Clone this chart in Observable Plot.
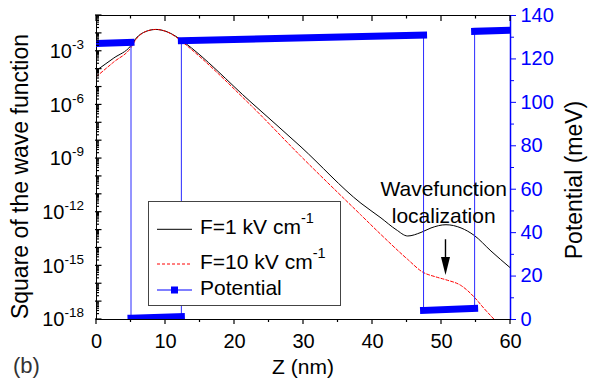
<!DOCTYPE html>
<html><head><meta charset="utf-8">
<script src="https://cdn.jsdelivr.net/npm/d3@7"></script>
<script src="https://cdn.jsdelivr.net/npm/@observablehq/plot@0.6"></script>
<style>
body{margin:0;background:#fff}
#wrap{position:relative;width:591px;height:382px;background:#fff}
#wrap svg{position:absolute;left:0;top:0;background:transparent !important;max-width:none}
</style>
</head><body><div id="wrap"></div>
<script>
// ---- data ----
// F = 1 kV/cm : position (nm) and log10 of |psi|^2
const zF1   = [0, 2.5, 5.0, 5.72, 7.17, 8.62, 10.07, 11.52, 12.54, 22.39, 29.64, 38.33, 41.23, 43.41, 45.10, 47.03, 48.48, 50.65, 52.83, 54.75, 57.17, 60];
const logF1 = [-4.07, -3.38, -2.68, -2.28, -1.89, -1.78, -1.89, -2.17, -2.45, -5.85, -8.35, -11.50, -12.32, -12.97, -13.33, -13.13, -12.88, -12.70, -12.88, -13.30, -14.17, -15.12];
// F = 10 kV/cm
const zF10   = [0, 2.5, 5.0, 5.72, 7.17, 8.62, 10.07, 11.52, 12.54, 22.39, 29.64, 38.33, 41.23, 45.10, 47.28, 49.2, 50.65, 52.83, 54.75, 56.16, 57.65];
const logF10 = [-4.41, -3.60, -2.79, -2.34, -1.89, -1.78, -1.89, -2.20, -2.51, -6.03, -8.88, -12.16, -13.25, -14.64, -15.35, -15.62, -15.78, -16.10, -16.75, -17.38, -18.0];
// Potential profile (meV), step corners
const potZ = [0, 5, 5, 12.3, 12.3, 47.4, 47.4, 54.8, 54.8, 60];
const potV = [127.1, 127.6, 0.6, 1.3, 128.4, 131.0, 4.2, 5.1, 132.7, 133.2];
// ticks
const xMajor = [0, 10, 20, 30, 40, 50, 60];
const xMinor = [5, 15, 25, 35, 45, 55];
const yLabelExp = [-3, -6, -9, -12, -15, -18];
const decadeExp = [-18,-17,-16,-15,-14,-13,-12,-11,-10,-9,-8,-7,-6,-5,-4,-3,-2,-1];
const potMajor = [0, 20, 40, 60, 80, 100, 120, 140];
const potMinor = [10, 30, 50, 70, 90, 110, 130];
// annotation
const arrowZ = [50.65], arrowFromExp = [-13.54], arrowToExp = [-15.54];
const legendLabels = ["F=1 kV cm", "F=10 kV cm", "Potential"];

// ---- build ----
const W = 591, H = 382, mL = 96, mR = 81, mT = 15, mB = 63;
const font = "'Liberation Sans', Arial, Helvetica, sans-serif";
const f1 = zF1.map((z, i) => ({z, v: Math.pow(10, logF1[i])}));
const f10 = zF10.map((z, i) => ({z, v: Math.pow(10, logF10[i])}));
const pot = potZ.map((z, i) => ({z, v: potV[i]}));
const segs = [];
for (let i = 0; i + 1 < pot.length; i += 2) segs.push({z1: pot[i].z, v1: pot[i].v, z2: pot[i+1].z, v2: pot[i+1].v});
const decades = decadeExp.map(e => Math.pow(10, e));
const minor = [];
decadeExp.forEach(e => { if (e < -1) for (let d = 2; d <= 9; d++) minor.push(d * Math.pow(10, e)); });
const blank = () => "";

const p1 = Plot.plot({
  width: W, height: H, marginLeft: mL, marginRight: mR, marginTop: mT, marginBottom: mB,
  style: {fontFamily: font, fontSize: "20px", color: "black", background: "transparent"},
  x: {domain: [0, 60], label: null},
  y: {type: "log", domain: [1e-18, 1e-1], label: null, axis: null},
  marks: [
    Plot.line(f1, {x: "z", y: "v", stroke: "black", strokeWidth: 1, curve: "monotone-x"}),
    Plot.line(f10, {x: "z", y: "v", stroke: "red", strokeWidth: 1, strokeDasharray: "3,2", curve: "monotone-x", clip: true}),
    Plot.axisX({anchor: "bottom", ticks: xMajor, tickSize: 0, tickPadding: 14, fontSize: 20, label: null}),
    Plot.frame({stroke: "black"})
  ]
});

const p2 = Plot.plot({
  width: W, height: H, marginLeft: mL, marginRight: mR, marginTop: mT, marginBottom: mB,
  style: {fontFamily: font, fontSize: "20px", color: "blue", background: "transparent"},
  x: {domain: [0, 60], label: null, axis: null},
  y: {domain: [0, 140], label: null},
  marks: [
    Plot.line(pot, {x: "z", y: "v", stroke: "#2a2aff", strokeWidth: 1}),
    Plot.link(segs, {x1: "z1", y1: "v1", x2: "z2", y2: "v2", stroke: "blue", strokeWidth: 7, strokeLinecap: "square", clip: true}),
    Plot.ruleX([60], {stroke: "blue", strokeWidth: 1.5}),
    Plot.axisY({anchor: "right", ticks: potMajor, tickSize: 5, tickPadding: 5, fontSize: 20, label: null}),
    Plot.axisY({anchor: "right", ticks: potMinor, tickSize: 3, tickFormat: blank, label: null})
  ]
});

const wrap = document.getElementById("wrap");
wrap.appendChild(p1);
wrap.appendChild(p2);

const sx = p1.scale("x"), sy = p1.scale("y");
const X = v => sx.apply(v), Y = v => sy.apply(v);
const x0 = X(0), yTop = Y(1e-1), yBot = Y(1e-18);

// ticks: inward on top and left, outward on bottom (positions from the plot scales)
const ns = "http://www.w3.org/2000/svg";
function tick(x1, y1, x2, y2) {
  const l = document.createElementNS(ns, "line");
  l.setAttribute("x1", x1); l.setAttribute("y1", y1); l.setAttribute("x2", x2); l.setAttribute("y2", y2);
  l.setAttribute("stroke", "#000"); l.setAttribute("stroke-width", "1.2");
  p2.appendChild(l);
}
xMajor.forEach(v => { tick(X(v), yTop, X(v), yTop + 6); tick(X(v), yBot, X(v), yBot + 5); });
xMinor.forEach(v => { tick(X(v), yTop, X(v), yTop + 3.5); tick(X(v), yBot, X(v), yBot + 3); });
decades.forEach(v => tick(x0 - 1, Y(v), x0 + 5.5, Y(v)));
minor.forEach(v => tick(x0, Y(v), x0 + 3, Y(v)));

// left tick labels with superscripts
const g1 = d3.select(p1).append("g").attr("font-family", font).attr("fill", "black");
yLabelExp.forEach(e => {
  const t = g1.append("text").attr("x", 84).attr("y", Y(Math.pow(10, e)) + 7.4).attr("text-anchor", "end").attr("font-size", 20);
  t.append("tspan").text("10");
  t.append("tspan").attr("dy", -9).attr("font-size", 13.5).text(String(e));
});

// top layer: titles, legend, annotation
const g = d3.select(p2).append("g").attr("font-family", font).attr("fill", "black").attr("text-anchor", "start");
g.append("text").attr("x", 303).attr("y", 374).attr("text-anchor", "middle").attr("font-size", 21).text("Z (nm)");
g.append("text").attr("transform", "translate(28,176.5) rotate(-90)").attr("text-anchor", "middle").attr("font-size", 23).text("Square of the wave function");
g.append("text").attr("transform", "translate(582,180) rotate(-90)").attr("text-anchor", "middle").attr("font-size", 23).text("Potential (meV)");
g.append("text").attr("x", 13).attr("y", 373).attr("font-size", 22).attr("fill", "#333").text("(b)");

// annotation
const ann = g.append("g").attr("font-size", 21).attr("text-anchor", "middle");
ann.append("text").attr("x", 443.7).attr("y", 196).text("Wavefunction");
ann.append("text").attr("x", 443.7).attr("y", 222.7).text("localization");
arrowZ.forEach((z, i) => {
  const ax = X(z), y0 = Y(Math.pow(10, arrowFromExp[i])), y1 = Y(Math.pow(10, arrowToExp[i]));
  g.append("line").attr("x1", ax).attr("x2", ax).attr("y1", y0).attr("y2", y1 - 14).attr("stroke", "black").attr("stroke-width", 1.4);
  g.append("path").attr("d", `M${ax - 4.5},${y1 - 18}L${ax + 4.5},${y1 - 18}L${ax},${y1}Z`).attr("fill", "black");
});

// legend
const lg = g.append("g").attr("text-anchor", "start");
lg.append("rect").attr("x", 148.5).attr("y", 201.5).attr("width", 192).attr("height", 104).attr("fill", "white").attr("stroke", "#444").attr("stroke-width", 1);
const rowsY = [229.3, 264, 290];
lg.append("line").attr("x1", 157).attr("x2", 192).attr("y1", rowsY[0]).attr("y2", rowsY[0]).attr("stroke", "black");
lg.append("line").attr("x1", 157).attr("x2", 192).attr("y1", rowsY[1]).attr("y2", rowsY[1]).attr("stroke", "red").attr("stroke-dasharray", "3,2");
lg.append("line").attr("x1", 157).attr("x2", 192).attr("y1", rowsY[2]).attr("y2", rowsY[2]).attr("stroke", "blue");
lg.append("rect").attr("x", 174.5 - 3.5).attr("y", rowsY[2] - 3.5).attr("width", 7).attr("height", 7).attr("fill", "blue");
const tb = [234, 269.3, 295];
legendLabels.forEach((s, i) => {
  const t = lg.append("text").attr("x", 200).attr("y", tb[i]).attr("font-size", 21);
  t.append("tspan").text(s);
  if (i < 2) t.append("tspan").attr("dy", -11.5).attr("font-size", 14.5).text("-1");
});
</script></body></html>
